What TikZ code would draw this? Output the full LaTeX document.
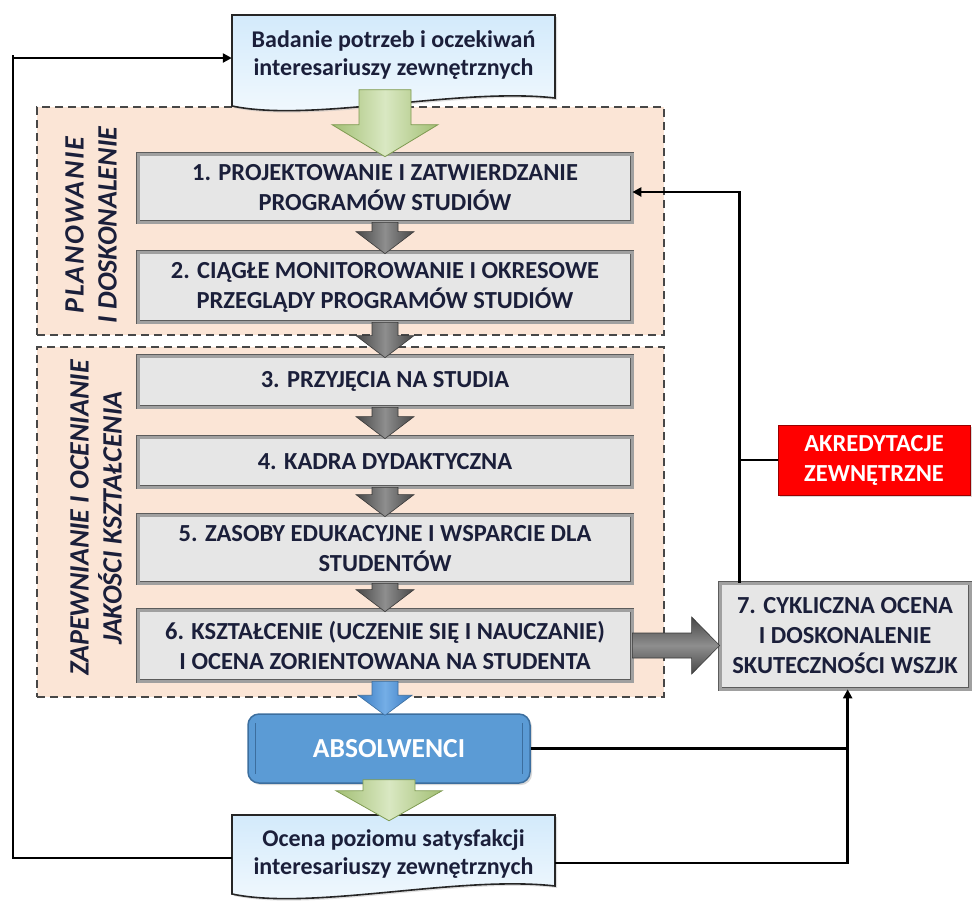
\documentclass[tikz,border=0pt]{standalone}
\usepackage{fontspec}
\setmainfont{Carlito}
\usetikzlibrary{calc,arrows.meta,shadows}
\definecolor{txt}{HTML}{1B1F3A}
\definecolor{peach}{HTML}{FBE5D6}
\definecolor{boxfill}{HTML}{E6E6E6}
\definecolor{boxedge}{HTML}{5C5C5C}
\definecolor{boxband}{HTML}{A0A0A0}
\definecolor{docedge}{HTML}{262626}
\definecolor{doctop}{HTML}{D3EAFB}
\definecolor{docbot}{HTML}{F4FAFE}
\definecolor{gdark}{HTML}{A3BF74}
\definecolor{glight}{HTML}{D9E8C2}
\definecolor{gedge}{HTML}{7F9B52}
\definecolor{ddark}{HTML}{474747}
\definecolor{dlight}{HTML}{8E8E8E}
\definecolor{bdark}{HTML}{3A7BC2}
\definecolor{blight}{HTML}{74AEE6}
\definecolor{absfill}{HTML}{5B9BD5}
\definecolor{absedge}{HTML}{3C6E9E}
\newcommand{\varr}[6]{\path[#6] let \p1=#1, \p2=#2 in (\x1-#3,\y1) -- (\x1+#3,\y1) -- (\x1+#3,\y2+#5) -- (\x1+#4,\y2+#5) -- (\x1,\y2) -- (\x1-#4,\y2+#5) -- (\x1-#3,\y2+#5) -- cycle;}
\newcommand{\harr}[6]{\path[#6] let \p1=#1, \p2=#2 in (\x1,\y1+#3) -- (\x2-#5,\y1+#3) -- (\x2-#5,\y1+#4) -- (\x2,\y1) -- (\x2-#5,\y1-#4) -- (\x2-#5,\y1-#3) -- (\x1,\y1-#3) -- cycle;}
\newcommand{\docpath}[3]{\path[docst] ($(#1)+(-#2,-#3)$) -- ($(#1)+(#2,-#3)$) -- ($(#1)+(#2,#3-5)$) .. controls ($(#1)+(0.4*#2,#3-16)$) and ($(#1)+(-0.5*#2,#3+20)$) .. ($(#1)+(-#2,#3+3)$) -- cycle;}
\begin{document}
\begin{tikzpicture}[x=1pt,y=-1pt,
  txtf/.style={font=\bfseries\fontsize{24.5}{30}\selectfont, text=txt, align=center},
  doctxt/.style={font=\bfseries\fontsize{24}{28}\selectfont, text=txt, align=center, minimum width=323pt, inner sep=0pt},
  lab/.style={font=\bfseries\itshape\fontsize{28}{33}\selectfont, text=txt, align=center},
  region/.style={draw=ddark, line width=1.2pt, dash pattern=on 8pt off 5pt, fill=peach, inner sep=0pt},
  gbox/.style={txtf, draw=boxedge, line width=0.7pt, double=boxband, double distance=3pt, fill=boxfill, inner sep=0pt,
    drop shadow={shadow xshift=2pt, shadow yshift=-2pt, fill=black!30}},
  docst/.style={draw=docedge, line width=1.6pt, top color=doctop, bottom color=docbot,
    drop shadow={shadow xshift=2pt, shadow yshift=-2pt, fill=black!25}},
  garr/.style={draw=gedge, line width=0.8pt, left color=gdark, right color=gdark, middle color=glight},
  darr/.style={draw=ddark!80!black, line width=0.6pt, left color=ddark, right color=ddark, middle color=dlight},
  barr/.style={draw=absedge, line width=0.6pt, left color=bdark, right color=bdark, middle color=blight},
  hgarr/.style={draw=ddark!80!black, line width=0.6pt, top color=ddark, bottom color=ddark, middle color=dlight},
  conn/.style={draw=black, line width=2.6pt},
  tip/.style={-{Triangle[length=9pt,width=9pt]}}
]
\useasboundingbox (0,0) rectangle (974,906);

% regions
\node[region, minimum width=627pt, minimum height=228pt] (r1) at (350.5,221) {};
\node[region, minimum width=627pt, minimum height=350pt] (r2) at (350.5,522) {};
\node[lab, rotate=90] (l1) at (91,225) {{\addfontfeatures{LetterSpace=6}PLANOWANIE}\\I DOSKONALENIE};
\node[lab, rotate=90] (l2) at (96,518) {ZAPEWNIANIE I OCENIANIE\\JAKOŚCI KSZTAŁCENIA};

% documents
\coordinate (badc) at (393.5,59);
\docpath{badc}{161.5}{44}
\node[doctxt] (bad) at (393.5,55) {Badanie potrzeb i oczekiwań\\interesariuszy zewnętrznych};
\coordinate (occ) at (393.5,853);
\docpath{occ}{161.5}{38}
\node[doctxt] (oc) at (393.5,854) {Ocena poziomu satysfakcji\\interesariuszy zewnętrznych};

% process boxes
\node[gbox, minimum width=494pt, minimum height=68pt] (b1) at (385,188) {1. PROJEKTOWANIE I ZATWIERDZANIE\\PROGRAMÓW STUDIÓW};
\node[gbox, minimum width=494pt, minimum height=70pt] (b2) at (385,287) {2. CIĄGŁE MONITOROWANIE I OKRESOWE\\PRZEGLĄDY PROGRAMÓW STUDIÓW};
\node[gbox, minimum width=494pt, minimum height=51pt] (b3) at (385,381.5) {3. PRZYJĘCIA NA STUDIA};
\node[gbox, minimum width=494pt, minimum height=50pt] (b4) at (385,462) {4. KADRA DYDAKTYCZNA};
\node[gbox, minimum width=494pt, minimum height=68pt] (b5) at (385,549) {5. ZASOBY EDUKACYJNE I WSPARCIE DLA\\STUDENTÓW};
\node[gbox, minimum width=494pt, minimum height=71pt] (b6) at (385,645.5) {6. KSZTAŁCENIE (UCZENIE SIĘ I NAUCZANIE)\\I OCENA ZORIENTOWANA NA STUDENTA};
\node[gbox, minimum width=250pt, minimum height=106pt] (b7) at (845,636) {7. CYKLICZNA OCENA\\I DOSKONALENIE\\SKUTECZNOŚCI WSZJK};
\node[txtf, text=white, draw=red!60!black, line width=0.8pt, fill=red, minimum width=192pt, minimum height=70pt, inner sep=0pt,
  drop shadow={shadow xshift=2pt, shadow yshift=-2pt, fill=black!30}] (akr) at (874,460) {AKREDYTACJE\\ZEWNĘTRZNE};
\node[txtf, font=\bfseries\fontsize{27.5}{30}\selectfont, text=white, draw=absedge, line width=1.5pt, fill=absfill, rounded corners=11pt,
  minimum width=282pt, minimum height=69pt, inner sep=0pt,
  drop shadow={shadow xshift=2pt, shadow yshift=-2pt, fill=black!30}] (abs) at (389,748.5) {ABSOLWENCI};
\draw[absedge, line width=1pt] ($(abs.north west)+(8,10)$) -- ($(abs.south west)+(8,-10)$);
\draw[absedge, line width=1pt] ($(abs.north east)+(-8,10)$) -- ($(abs.south east)+(-8,-10)$);

% block arrows
\varr{($(b1.north)+(0,-64)$)}{($(b1.north)+(0,3)$)}{26pt}{53pt}{32pt}{garr}
\varr{(b1.south)}{($(b2.north)+(0,2)$)}{13pt}{29pt}{22pt}{darr}
\varr{(b2.south)}{($(b3.north)+(0,2)$)}{13pt}{29pt}{22pt}{darr}
\varr{(b3.south)}{($(b4.north)+(0,2)$)}{13pt}{29pt}{22pt}{darr}
\varr{(b4.south)}{($(b5.north)+(0,2)$)}{13pt}{29pt}{22pt}{darr}
\varr{(b5.south)}{($(b6.north)+(0,2)$)}{13pt}{29pt}{22pt}{darr}
\varr{(b6.south)}{($(abs.north)+(0,2)$)}{13pt}{27pt}{20pt}{barr}
\varr{($(abs.south)+(0,-4)$)}{($(abs.south)+(0,37)$)}{26pt}{53pt}{30pt}{garr}
\harr{(b6.east)}{(b7.west)}{12.5pt}{28.5pt}{28pt}{hgarr}

% connectors
\coordinate (fbx) at ($(b7.north west)+(20,0)$);
\coordinate (rx) at ($(b7.south west)+(128,0)$);
\coordinate (lx) at ($(bad.west)+(-219,0)$);
\draw[conn, tip] (fbx) |- ($(b1.east)+(0,4)$);
\draw[conn] (akr.west) -- (akr.west -| fbx);
\draw[conn] (abs.east) -- (abs.east -| rx);
\draw[conn, tip] ($(oc.east)+(0,9)$) -| (rx);
\draw[conn, tip] ($(oc.west)+(0,4)$) -| (lx) |- ($(bad.west)+(0,3)$);
\end{tikzpicture}
\end{document}
